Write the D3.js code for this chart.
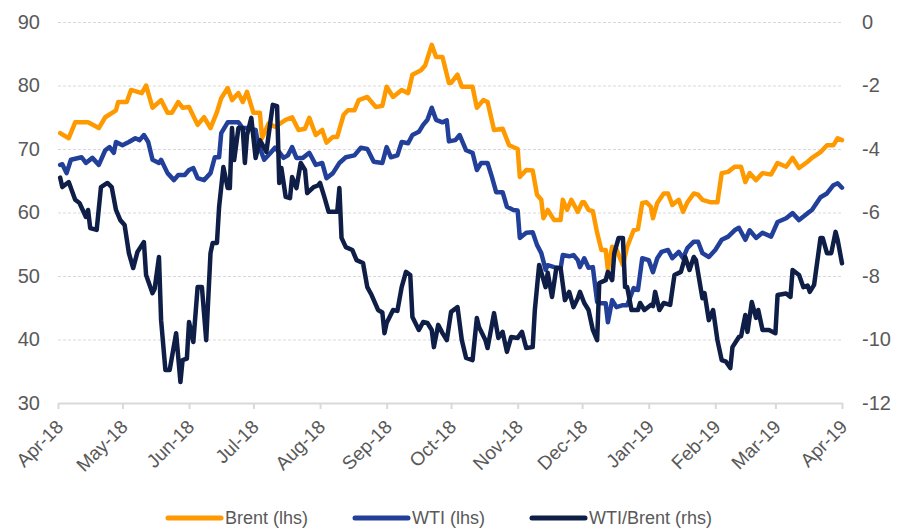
<!DOCTYPE html>
<html>
<head>
<meta charset="utf-8">
<script src="https://cdn.jsdelivr.net/npm/d3@7"></script>
<style>
body { margin: 0; background: #fff; }
text { font-family: "Liberation Sans", Arial, sans-serif; fill: #595959; }
</style>
</head>
<body>
<svg width="906" height="530"></svg>
<script>
// Series: [date, value]
var brent = [
  ["2018-04-02",72.5],["2018-04-06",71.7],["2018-04-09",74.2],["2018-04-15",74.2],["2018-04-20",73.3],["2018-04-23",75],
  ["2018-04-28",76.1],["2018-04-29",77.4],["2018-05-03",77.4],["2018-05-05",79.3],["2018-05-10",78.8],["2018-05-12",80],
  ["2018-05-15",76.5],["2018-05-19",77.7],["2018-05-22",75.7],["2018-05-24",75.7],["2018-05-27",77.4],["2018-05-29",76.5],
  ["2018-06-01",76.6],["2018-06-05",73.8],["2018-06-08",75],["2018-06-11",73.3],["2018-06-14",75.8],["2018-06-16",78],
  ["2018-06-19",79.6],["2018-06-21",77.7],["2018-06-24",78.8],["2018-06-26",77.4],["2018-06-28",79],["2018-07-01",75.7],
  ["2018-07-04",75.7],["2018-07-05",71.7],["2018-07-08",74],["2018-07-11",73.5],["2018-07-16",74.6],["2018-07-19",75],
  ["2018-07-22",73],["2018-07-25",73.2],["2018-07-27",74.9],["2018-07-30",72.2],["2018-08-02",73],["2018-08-04",71],
  ["2018-08-07",71.9],["2018-08-09",71.9],["2018-08-12",75.4],["2018-08-14",76.1],["2018-08-17",76.1],["2018-08-19",77.7],
  ["2018-08-23",78.2],["2018-08-27",76.6],["2018-08-30",76.8],["2018-09-01",79.8],["2018-09-04",78.2],["2018-09-08",79.3],
  ["2018-09-11",78.8],["2018-09-13",81.7],["2018-09-17",82.4],["2018-09-19",83.2],["2018-09-22",86.4],["2018-09-24",84.5],
  ["2018-09-27",84.5],["2018-09-30",80.4],["2018-10-01",80.4],["2018-10-04",81.7],["2018-10-06",79.8],["2018-10-11",79.8],
  ["2018-10-13",76.5],["2018-10-16",77.7],["2018-10-18",77.4],["2018-10-21",73],["2018-10-25",73.2],["2018-10-28",70.6],
  ["2018-11-01",70],["2018-11-02",65.6],["2018-11-05",66.7],["2018-11-08",66.6],["2018-11-10",62.8],["2018-11-12",62],
  ["2018-11-13",59.1],["2018-11-15",60.4],["2018-11-18",58.8],["2018-11-21",58.8],["2018-11-22",62],["2018-11-24",60.4],
  ["2018-11-26",62],["2018-11-29",60.1],["2018-12-01",61.6],["2018-12-02",61.6],["2018-12-04",60.4],["2018-12-06",60.2],
  ["2018-12-08",56.8],["2018-12-10",54.1],["2018-12-12",54.1],["2018-12-13",51],["2018-12-15",54.6],["2018-12-17",54.2],
  ["2018-12-20",51.7],["2018-12-22",54.6],["2018-12-25",57.2],["2018-12-27",57.4],["2018-12-29",61.5],["2018-12-31",61.6],
  ["2019-01-02",60.9],["2019-01-03",59.1],["2019-01-05",61.5],["2019-01-08",63],["2019-01-10",63],["2019-01-12",61.2],
  ["2019-01-15",62],["2019-01-17",60.1],["2019-01-19",61.6],["2019-01-22",63],["2019-01-24",62.8],["2019-01-26",62],
  ["2019-01-30",61.6],["2019-02-02",61.6],["2019-02-04",66.2],["2019-02-07",66.4],["2019-02-10",67.2],["2019-02-13",67.2],
  ["2019-02-15",64.8],["2019-02-17",66.2],["2019-02-20",65.1],["2019-02-23",66.2],["2019-02-27",66],["2019-03-02",67.8],
  ["2019-03-06",67.2],["2019-03-09",68.6],["2019-03-12",67],["2019-03-16",68],["2019-03-18",68.6],["2019-03-22",69.5],
  ["2019-03-25",70.6],["2019-03-28",70.6],["2019-03-30",71.7],["2019-04-01",71.4]
];

var wti = [
  ["2018-04-02",67.5],["2018-04-03",67.6],["2018-04-05",66.2],["2018-04-07",68.3],["2018-04-12",68.7],["2018-04-14",67.8],
  ["2018-04-17",68.6],["2018-04-20",67.5],["2018-04-23",69.8],["2018-04-25",70.3],["2018-04-27",69.4],["2018-04-28",71.1],
  ["2018-05-01",70.6],["2018-05-04",71.1],["2018-05-07",71.7],["2018-05-09",71.4],["2018-05-11",72.2],["2018-05-13",71.1],
  ["2018-05-15",68.3],["2018-05-18",67.8],["2018-05-19",68.3],["2018-05-22",66.2],["2018-05-25",65.1],["2018-05-27",65.9],
  ["2018-05-30",65.9],["2018-06-01",66.7],["2018-06-03",67],["2018-06-05",65.4],["2018-06-08",65.1],["2018-06-11",66.2],
  ["2018-06-13",68.7],["2018-06-15",68.7],["2018-06-16",72.5],["2018-06-19",74.2],["2018-06-24",74.2],["2018-06-26",73.3],
  ["2018-06-28",73.3],["2018-07-02",73],["2018-07-03",71],["2018-07-06",68.3],["2018-07-09",69.4],["2018-07-11",70.2],
  ["2018-07-13",69.5],["2018-07-15",68.6],["2018-07-17",69],["2018-07-19",70.3],["2018-07-21",68.6],["2018-07-24",68.6],
  ["2018-07-27",69.4],["2018-07-30",67.5],["2018-08-02",67.8],["2018-08-04",65.4],["2018-08-07",66.2],["2018-08-10",67.8],
  ["2018-08-13",68.7],["2018-08-17",69],["2018-08-20",70.2],["2018-08-23",70],["2018-08-26",68],["2018-08-30",67.8],
  ["2018-09-01",70.3],["2018-09-03",68.7],["2018-09-06",69],["2018-09-08",71.1],["2018-09-11",70.9],["2018-09-13",72.2],
  ["2018-09-16",72.7],["2018-09-18",73.8],["2018-09-20",74.6],["2018-09-22",76.5],["2018-09-24",74.6],["2018-09-27",74.2],
  ["2018-09-29",74.5],["2018-09-30",71.2],["2018-10-03",71.4],["2018-10-05",72.2],["2018-10-08",69.8],["2018-10-11",69.4],
  ["2018-10-13",66.7],["2018-10-15",67.8],["2018-10-18",67.8],["2018-10-20",65.6],["2018-10-22",63.2],["2018-10-25",63.2],
  ["2018-10-27",60.9],["2018-10-30",60.4],["2018-11-01",60.3],["2018-11-02",56],["2018-11-05",56.8],["2018-11-08",56.9],
  ["2018-11-10",54.9],["2018-11-12",53.6],["2018-11-14",51],["2018-11-15",51.7],["2018-11-18",51.4],["2018-11-21",51.2],
  ["2018-11-22",53.3],["2018-11-25",53.1],["2018-11-27",53.3],["2018-11-29",52.5],["2018-11-30",51.4],["2018-12-02",52.8],
  ["2018-12-04",51.3],["2018-12-06",51.4],["2018-12-08",45.9],["2018-12-10",45.7],["2018-12-12",45.7],["2018-12-13",42.7],
  ["2018-12-15",46.2],["2018-12-17",45.1],["2018-12-20",45.4],["2018-12-22",45.4],["2018-12-25",48.1],["2018-12-27",47.8],
  ["2018-12-29",52.8],["2019-01-01",52.5],["2019-01-03",50.6],["2019-01-05",52.8],["2019-01-07",53.8],["2019-01-10",54.1],
  ["2019-01-12",52.8],["2019-01-15",53.8],["2019-01-17",52.8],["2019-01-19",54.4],["2019-01-22",55.4],["2019-01-24",55.4],
  ["2019-01-26",53.6],["2019-01-29",53],["2019-02-01",54.1],["2019-02-04",55.7],["2019-02-07",56.2],["2019-02-10",57.2],
  ["2019-02-12",57.6],["2019-02-15",55.7],["2019-02-17",57.2],["2019-02-20",56],["2019-02-23",56.8],["2019-02-27",56.2],
  ["2019-03-02",58.5],["2019-03-06",59.1],["2019-03-09",59.9],["2019-03-12",58.8],["2019-03-16",59.9],["2019-03-18",60.4],
  ["2019-03-22",62.4],["2019-03-25",63],["2019-03-28",64.3],["2019-03-30",64.6],["2019-04-01",63.9]
];

var spread = [
  ["2018-04-02",-4.9],["2018-04-03",-5.2],["2018-04-06",-5.04],["2018-04-09",-5.6],["2018-04-11",-5.7],["2018-04-14",-6.14],
  ["2018-04-15",-5.92],["2018-04-16",-6.49],["2018-04-19",-6.55],["2018-04-21",-5.2],["2018-04-24",-5.07],["2018-04-26",-5.2],
  ["2018-04-28",-5.92],["2018-04-30",-6.24],["2018-05-02",-6.39],["2018-05-04",-7.28],["2018-05-06",-7.75],["2018-05-08",-7.24],
  ["2018-05-11",-6.93],["2018-05-12",-7.97],["2018-05-15",-8.54],["2018-05-16",-8.4],["2018-05-18",-7.4],["2018-05-19",-9.39],
  ["2018-05-21",-10.96],["2018-05-23",-10.96],["2018-05-26",-9.8],["2018-05-28",-11.34],["2018-05-29",-10.65],["2018-05-31",-10.6],
  ["2018-06-01",-9.45],["2018-06-03",-10.08],["2018-06-05",-8.35],["2018-06-07",-8.35],["2018-06-09",-10.02],["2018-06-11",-7.28],
  ["2018-06-12",-6.96],["2018-06-14",-6.96],["2018-06-15",-5.83],["2018-06-17",-4.57],["2018-06-19",-5.23],["2018-06-20",-5.23],
  ["2018-06-21",-3.34],["2018-06-22",-4.35],["2018-06-24",-3.34],["2018-06-26",-3.34],["2018-06-27",-4.44],["2018-06-28",-3.56],
  ["2018-06-30",-3.02],["2018-07-02",-4.28],["2018-07-04",-3.72],["2018-07-07",-4.09],["2018-07-09",-3.09],["2018-07-10",-2.61],
  ["2018-07-12",-2.65],["2018-07-13",-5.07],["2018-07-14",-4.6],["2018-07-16",-5.51],["2018-07-18",-5.55],["2018-07-19",-4.88],
  ["2018-07-21",-5.23],["2018-07-23",-4.44],["2018-07-25",-4.66],["2018-07-26",-5.39],["2018-07-29",-5.2],["2018-07-31",-5.15],
  ["2018-08-01",-5.07],["2018-08-03",-5.51],["2018-08-05",-5.98],["2018-08-09",-5.98],["2018-08-10",-5.23],["2018-08-11",-6.8],
  ["2018-08-13",-7.09],["2018-08-16",-7.18],["2018-08-18",-7.5],["2018-08-21",-7.59],["2018-08-23",-8.35],["2018-08-25",-8.6],
  ["2018-08-28",-9.07],["2018-08-30",-9.15],["2018-08-31",-9.8],["2018-09-01",-9.48],["2018-09-04",-9.07],["2018-09-06",-9.1],
  ["2018-09-08",-8.35],["2018-09-10",-7.87],["2018-09-12",-7.97],["2018-09-13",-9.29],["2018-09-16",-9.7],["2018-09-18",-9.45],
  ["2018-09-20",-9.48],["2018-09-22",-9.7],["2018-09-23",-10.24],["2018-09-25",-9.54],["2018-09-27",-9.8],["2018-09-29",-10.02],
  ["2018-10-01",-9.13],["2018-10-04",-8.98],["2018-10-06",-10.02],["2018-10-08",-10.58],["2018-10-11",-10.65],["2018-10-13",-9.32],
  ["2018-10-14",-9.61],["2018-10-17",-10.02],["2018-10-18",-10.27],["2018-10-21",-9.17],["2018-10-23",-9.95],["2018-10-25",-9.76],
  ["2018-10-27",-10.39],["2018-10-29",-9.92],["2018-11-01",-9.95],["2018-11-03",-9.76],["2018-11-05",-10.27],["2018-11-08",-10.24],
  ["2018-11-09",-9.07],["2018-11-11",-7.65],["2018-11-14",-8.35],["2018-11-15",-7.9],["2018-11-17",-8.66],["2018-11-19",-7.75],
  ["2018-11-21",-7.75],["2018-11-23",-8.76],["2018-11-25",-8.5],["2018-11-27",-8.98],["2018-11-29",-8.7],["2018-11-30",-8.5],
  ["2018-12-02",-8.85],["2018-12-04",-9.07],["2018-12-06",-9.7],["2018-12-08",-10.02],["2018-12-09",-8.22],["2018-12-12",-8.13],
  ["2018-12-13",-7.87],["2018-12-15",-8.13],["2018-12-16",-7.28],["2018-12-18",-6.8],["2018-12-20",-6.8],["2018-12-21",-8.35],
  ["2018-12-22",-8.35],["2018-12-24",-9.07],["2018-12-27",-9.07],["2018-12-28",-8.85],["2018-12-30",-9.07],["2019-01-02",-8.91],
  ["2019-01-03",-8.95],["2019-01-04",-8.5],["2019-01-06",-9.07],["2019-01-08",-8.85],["2019-01-11",-8.91],["2019-01-13",-7.97],
  ["2019-01-16",-7.87],["2019-01-18",-7.4],["2019-01-20",-7.81],["2019-01-22",-7.4],["2019-01-23",-7.5],["2019-01-26",-8.7],
  ["2019-01-27",-8.54],["2019-01-29",-9.39],["2019-01-31",-9.07],["2019-02-02",-10.02],["2019-02-04",-10.65],["2019-02-06",-10.7],
  ["2019-02-08",-10.9],["2019-02-09",-10.24],["2019-02-12",-9.92],["2019-02-13",-9.9],["2019-02-15",-9.23],["2019-02-16",-9.76],
  ["2019-02-18",-8.82],["2019-02-20",-9.32],["2019-02-21",-9.07],["2019-02-23",-9.7],["2019-02-26",-9.7],["2019-03-01",-9.8],
  ["2019-03-02",-8.6],["2019-03-06",-8.55],["2019-03-08",-8.66],["2019-03-09",-7.81],["2019-03-12",-7.97],["2019-03-14",-8.35],
  ["2019-03-16",-8.3],["2019-03-17",-8.5],["2019-03-19",-8.28],["2019-03-22",-6.8],["2019-03-23",-6.8],["2019-03-25",-7.28],
  ["2019-03-27",-7.28],["2019-03-29",-6.61],["2019-03-30",-6.87],["2019-04-01",-7.6]
];

var leftTicks = [30, 40, 50, 60, 70, 80, 90];
var rightTicks = [-12, -10, -8, -6, -4, -2, 0];
var xStart = "2018-04-01", xEnd = "2019-04-01";

var legendItems = [
  {name: "Brent (lhs)", color: "#ff9900"},
  {name: "WTI (lhs)", color: "#22409a"},
  {name: "WTI/Brent (rhs)", color: "#0e1e46"}
];

// setup
var svg = d3.select("svg"),
    margin = {top: 22, right: 64, bottom: 127, left: 58},
    width = +svg.attr("width") - margin.left - margin.right,
    height = +svg.attr("height") - margin.top - margin.bottom;

var parse = d3.timeParse("%Y-%m-%d");

var x = d3.scaleTime().domain([parse(xStart), parse(xEnd)]).range([0, width]),
    yL = d3.scaleLinear().domain([30, 90]).range([height, 0]),
    yR = d3.scaleLinear().domain([-12, 0]).range([height, 0]);

var g = svg.append("g")
    .attr("transform", "translate(" + margin.left + "," + margin.top + ")");

// gridlines
g.append("g")
    .attr("class", "grid")
    .call(d3.axisLeft(yL).tickValues(leftTicks.slice(1)).tickSize(-width).tickFormat(""))
    .call(function(s) {
        s.select(".domain").remove();
        s.selectAll("line").attr("stroke", "#d9d9d9").attr("stroke-dasharray", "3,2");
    });

// left axis labels
g.append("g")
    .call(d3.axisLeft(yL).tickValues(leftTicks).tickSize(0).tickPadding(18))
    .call(function(s) {
        s.select(".domain").remove();
        s.selectAll("text").style("font-size", "20px");
    });

// right axis labels
g.append("g")
    .attr("transform", "translate(" + width + ",0)")
    .call(d3.axisRight(yR).tickValues(rightTicks).tickSize(0).tickPadding(20).tickFormat(function(d) { return d; }))
    .call(function(s) {
        s.select(".domain").remove();
        s.selectAll("text").style("font-size", "20px");
    });

// x axis
g.append("g")
    .attr("transform", "translate(0," + height + ")")
    .call(d3.axisBottom(x).ticks(d3.timeMonth.every(1)).tickFormat(d3.timeFormat("%b-%y")).tickSize(6).tickSizeOuter(0))
    .call(function(s) {
        s.select(".domain").attr("stroke", "#d9d9d9").attr("stroke-width", 2);
        s.selectAll(".tick line").attr("stroke", "#d9d9d9").attr("stroke-width", 2);
        s.selectAll("text")
            .style("font-size", "19px")
            .attr("text-anchor", "end")
            .attr("x", 0).attr("y", 0)
            .attr("dx", 0).attr("dy", 0)
            .attr("transform", "translate(6,25) rotate(-45)");
    });

function drawLine(data, yScale, color) {
    var line = d3.line()
        .x(function(d) { return x(parse(d[0])); })
        .y(function(d) { return yScale(d[1]); });
    g.append("path")
        .datum(data)
        .attr("fill", "none")
        .attr("stroke", color)
        .attr("stroke-width", 4.5)
        .attr("stroke-linejoin", "round")
        .attr("stroke-linecap", "round")
        .attr("d", line);
}

drawLine(brent, yL, legendItems[0].color);
drawLine(wti, yL, legendItems[1].color);
drawLine(spread, yR, legendItems[2].color);

// legend
var legendX = [168, 355, 532];
var legend = svg.append("g").attr("transform", "translate(0,518)");
legendItems.forEach(function(d, i) {
    legend.append("line")
        .attr("x1", legendX[i]).attr("x2", legendX[i] + 53)
        .attr("y1", 0).attr("y2", 0)
        .attr("stroke", d.color)
        .attr("stroke-width", 5)
        .attr("stroke-linecap", "round");
    legend.append("text")
        .attr("x", legendX[i] + 57)
        .attr("y", 0)
        .attr("dy", "0.35em")
        .style("font-size", "18px")
        .text(d.name);
});
</script>
</body>
</html>
